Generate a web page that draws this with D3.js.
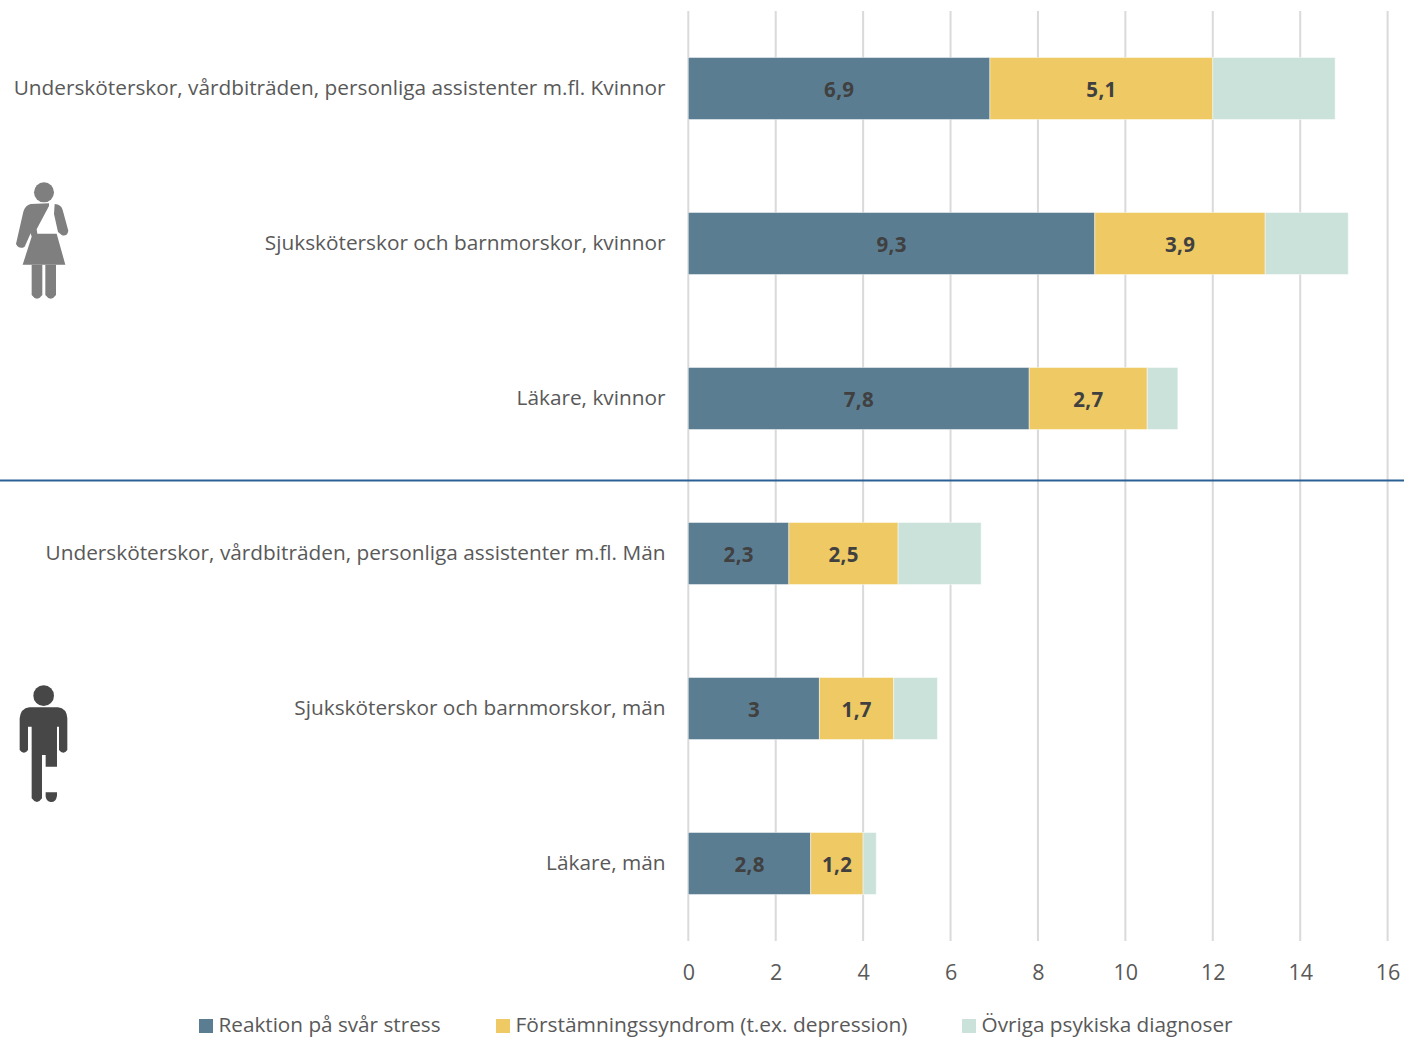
<!DOCTYPE html>
<html><head><meta charset="utf-8">
<script src="https://cdn.jsdelivr.net/npm/d3@7/dist/d3.min.js"></script>
<style>html,body{margin:0;padding:0;background:#fff}svg{display:block}text{font-family:"Open Sans",sans-serif}</style>
</head><body><svg id="c" width="1404" height="1038"></svg>
<script>
const categories=["Undersköterskor, vårdbiträden, personliga assistenter m.fl. Kvinnor","Sjuksköterskor och barnmorskor, kvinnor","Läkare, kvinnor","Undersköterskor, vårdbiträden, personliga assistenter m.fl. Män","Sjuksköterskor och barnmorskor, män","Läkare, män"];
const stress=[6.9,9.3,7.8,2.3,3,2.8];
const depression=[5.1,3.9,2.7,2.5,1.7,1.2];
const other=[2.8,1.9,0.7,1.9,1.0,0.3];
const seriesNames=["Reaktion på svår stress","Förstämningssyndrom (t.ex. depression)","Övriga psykiska diagnoser"];
const colors=["#5b7d92","#eec964","#cbe2db"];
const ticks=[0,2,4,6,8,10,12,14,16];
const svg=d3.select("#c");
const x=d3.scaleLinear().domain([0,16]).range([688.3,1387.6]);
const y=d3.scaleBand().domain(categories).range([11,941]).paddingInner(0.6).paddingOuter(0.3);
// grid
svg.append("g").selectAll("line").data(ticks).join("line")
 .attr("x1",d=>x(d)).attr("x2",d=>x(d)).attr("y1",11).attr("y2",941).attr("stroke","#dadada").attr("stroke-width",2);
// bars
const rows=categories.map((c,i)=>({c,v:[stress[i],depression[i],other[i]]}));
const stack=d3.stack().keys([0,1,2]).value((d,k)=>d.v[k])(rows);
const g=svg.append("g");
stack.forEach((s,k)=>{
 g.selectAll(null).data(s).join("rect")
  .attr("x",d=>x(d[0])).attr("width",d=>x(d[1])-x(d[0]))
  .attr("y",d=>y(d.data.c)).attr("height",y.bandwidth()).attr("fill",colors[k])
  .attr("stroke","#fff").attr("stroke-opacity",0.45).attr("stroke-width",1);
 if(k<2) g.selectAll(null).data(s).join("text")
  .attr("x",d=>(x(d[0])+x(d[1]))/2).attr("y",d=>y(d.data.c)+y.bandwidth()/2+1.5)
  .attr("dy","0.36em").attr("text-anchor","middle").attr("font-size",20.5).attr("font-weight",700).attr("fill","#404040")
  .attr("textLength",d=>String(d.data.v[k]).length>1?30:null)
  .text(d=>String(d.data.v[k]).replace(".",","));
});
// category labels
svg.append("g").selectAll("text").data(categories).join("text")
 .attr("x",665.5).attr("y",d=>y(d)+y.bandwidth()/2-0.5).attr("dy","0.36em").attr("text-anchor","end")
 .attr("font-size",20.8).attr("fill","#595959").text(d=>d);
// x tick labels
const axis=svg.append("g").attr("transform","translate(0,941)").call(d3.axisBottom(x).tickValues(ticks).tickSize(0).tickPadding(24));
axis.select(".domain").remove();
axis.selectAll("text").attr("font-size",21.5).attr("fill","#595959").attr("font-family",'"Open Sans",sans-serif');
// separator
svg.append("line").attr("x1",0).attr("x2",1404).attr("y1",480.5).attr("y2",480.5).attr("stroke","#2a6093").attr("stroke-width",1.8);
// legend
const legX=[199,496,962],legW=[222,392,251];
seriesNames.forEach((n,i)=>{
 svg.append("rect").attr("x",legX[i]).attr("y",1019).attr("width",14).attr("height",14).attr("fill",colors[i]);
 svg.append("text").attr("x",legX[i]+19.5).attr("y",1032).attr("font-size",20).attr("fill","#595959")
  .attr("textLength",legW[i]).attr("lengthAdjust","spacingAndGlyphs").text(n);
});
// pictograms
const defs=svg.append("defs");
defs.append("filter").attr("id","b").append("feGaussianBlur").attr("stdDeviation",0.6);
const woman=svg.append("g").attr("fill","#7f7f7f").attr("filter","url(#b)").attr("transform","translate(0,170) scale(0.3333)");
woman.append("circle").attr("cx",132).attr("cy",67).attr("r",30);
woman.append("path").attr("d","M92 102 L147 100 L147 108 L110 178 L112 191 L170 191 L196 284 L68 284 L95 200 L92 190 L74 230 Q58 240 48 222 L70 125 Q76 106 92 102Z");
woman.append("path").attr("d","M164 102 Q184 104 188 120 L205 182 Q202 200 186 196 L174 186 L162 132Z");
woman.append("path").attr("d","M95 284 H127 V375 Q111 397 95 375Z M136 284 H168 V375 Q152 397 136 375Z");
const man=svg.append("g").attr("fill","#474747").attr("filter","url(#b)").attr("transform","translate(0,675) scale(0.3333)");
man.append("circle").attr("cx",131).attr("cy",62).attr("r",31);
man.append("path").attr("d","M88 97 H174 Q200 100 202 130 V225 Q190 242 177 225 V155 H171 V275 H137 V240 H126 V370 Q111 392 95 370 V155 H84 V225 Q72 242 59 225 V130 Q62 100 88 97Z");
man.append("path").attr("d","M137 352 H171 V362 Q168 382 152 381 Q140 380 137 365Z");
</script></body></html>
